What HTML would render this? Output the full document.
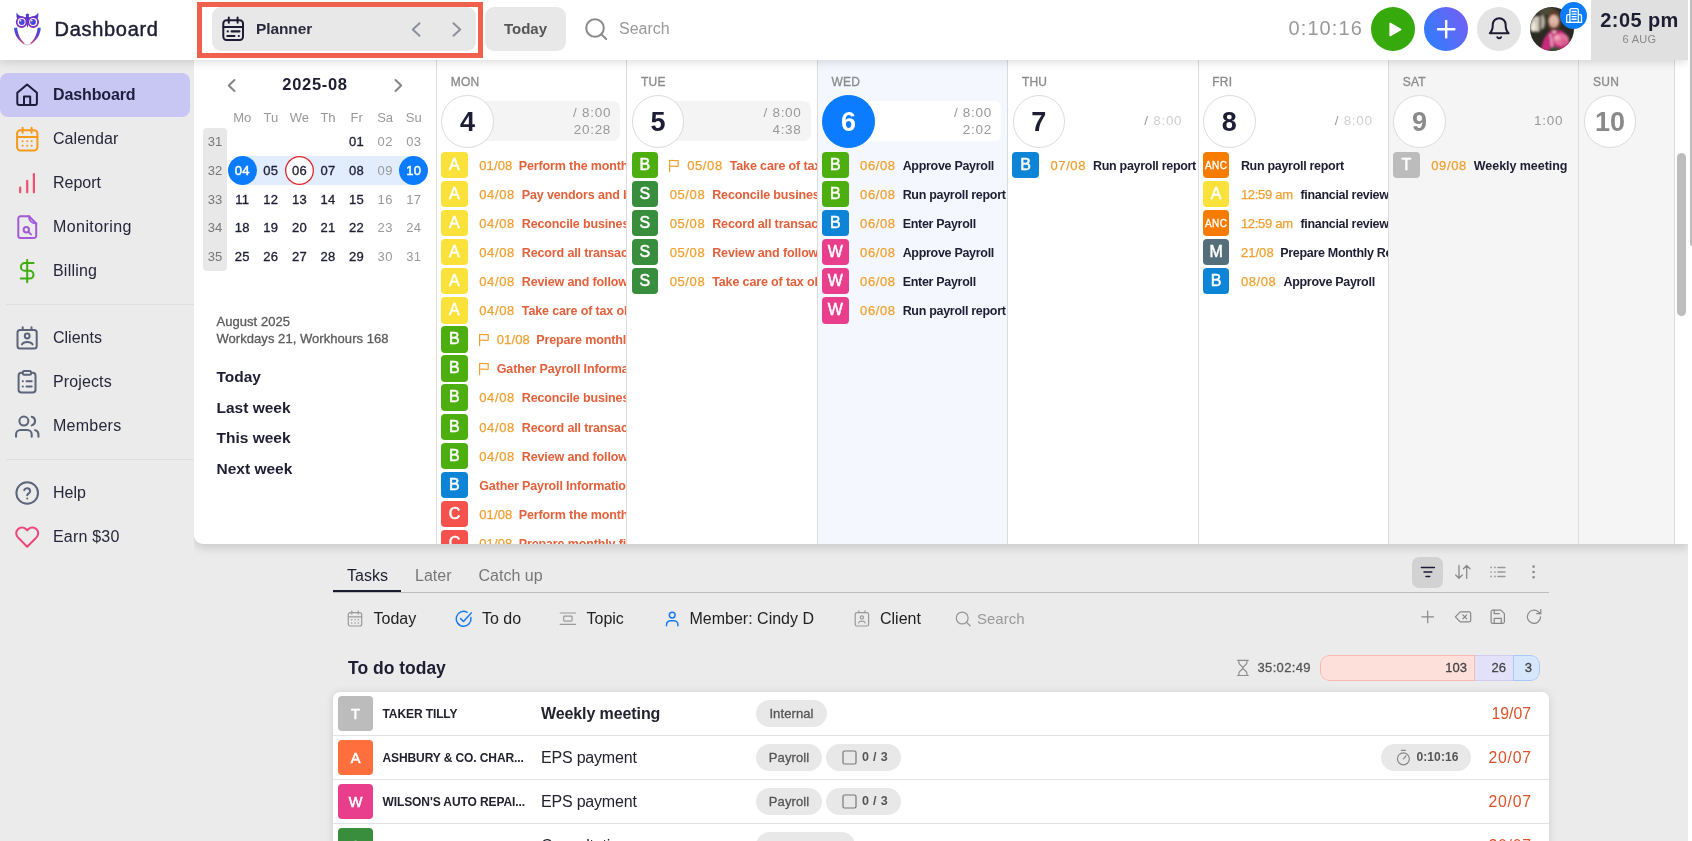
<!DOCTYPE html>
<html lang="en">
<head>
<meta charset="utf-8">
<title>Dashboard</title>
<style>
*{box-sizing:border-box;margin:0;padding:0}
html,body{width:1692px;height:841px;overflow:hidden}
body{font-family:"Liberation Sans",sans-serif;background:#ebebeb;color:#1d1d33;position:relative;will-change:transform}
.abs{position:absolute}
svg{display:block;overflow:visible}
.ico{fill:none;stroke-linecap:round;stroke-linejoin:round}
/* right strip (outer scrollbar) */
#rstrip{left:1688px;top:0;width:4px;height:841px;background:#fff;z-index:9}
#rthumb{left:1690px;top:0;width:2px;height:246px;background:#bdbdbd;border-radius:0 0 0 2px;z-index:10}
/* header */
#hdr{left:0;top:0;width:1688px;height:60px;background:#fff;box-shadow:0 1px 10px rgba(0,0,0,.16);z-index:5}
#title{left:54.500px;top:17px;font-size:20px;line-height:24px;font-weight:400;color:#1d1d33;letter-spacing:.7px;-webkit-text-stroke:.45px #1d1d33}
#redbox{left:197px;top:2px;width:286px;height:56px;border:5px solid #f15f4d}
#plbtn{left:212px;top:7px;width:264px;height:44px;border-radius:9px;background:#e8e8e8}
#pltxt{left:256px;top:19px;letter-spacing:-.1px;font-size:15.500px;line-height:20px;font-weight:700;color:#2a2a3c}
#todaybtn{left:485px;top:7px;width:81px;height:44px;border-radius:9px;background:#e8e8e8;text-align:center;font-size:15px;line-height:44px;font-weight:700;color:#555}
#srch{left:619px;top:19px;font-size:16px;line-height:20px;color:#999}
#timer{left:1288.500px;top:16px;font-size:20px;line-height:24px;color:#999;letter-spacing:1.1px}
.circ{width:44px;height:44px;border-radius:50%;top:7px}
#timebox{left:1591px;top:0;width:97px;height:60px;background:#e0e0e0;text-align:center}
#clock{left:0;top:9px;width:97px;font-size:20px;line-height:22px;font-weight:700;color:#1d1d33;letter-spacing:.4px}
#cdate{left:0;top:33px;width:97px;font-size:11px;line-height:12px;color:#888;letter-spacing:.3px}
/* sidebar */
#sbg{left:0;top:60px;width:194px;height:781px;background:#ebebeb;z-index:2}
.nav{left:0;width:190px;height:44px;z-index:3}
.nav.on{background:#c8c7f3;border-radius:8px}
.nav span{position:absolute;left:53px;top:12px;font-size:16px;line-height:20px;color:#26263a}
.nav.on span{font-weight:700;color:#1d1d3c}
.nav svg{position:absolute;left:15px;top:10px}
.sep{left:6px;width:188px;height:1px;background:#dfdfdf;z-index:3}
/* planner panel */
#panel{left:194px;top:60px;width:1494px;height:484px;background:#fff;border-bottom-left-radius:9px;box-shadow:0 4px 10px rgba(0,0,0,.14);overflow:hidden}
#panel .in{position:absolute;left:-194px;top:-60px;width:1692px;height:841px}
#mtitle{left:265px;top:74px;width:100px;text-align:center;letter-spacing:.7px;font-size:16.500px;line-height:20px;font-weight:700;color:#1d1d33}
.dh{width:29px;text-align:center;font-size:13px;line-height:16px;color:#999;top:110px}
.dn{width:29px;height:29px;text-align:center;font-size:13px;line-height:29px;font-weight:400;color:#1d1d33;border-radius:50%;letter-spacing:.3px;-webkit-text-stroke:.32px #1d1d33}
.dn.g{color:#999;-webkit-text-stroke:0}
.dn.b{background:#0b7cff;color:#fff;-webkit-text-stroke:.45px #fff}
.dn.r{box-shadow:inset 0 0 0 1.300px #e0252b;background:#fff}
.wk{width:24px;text-align:center;font-size:13px;line-height:29px;color:#777;left:203px}
#wkcol{left:203px;top:128px;width:24px;height:143px;background:#e8e8e8;border-radius:4px}
#band{left:242px;top:156px;width:172px;height:29px;background:#e1edfc}
.inf{left:216.500px;font-size:13px;letter-spacing:.05px;line-height:17px;color:#5a5a5a;-webkit-text-stroke:.3px #5a5a5a}
.ql{left:216.500px;font-size:15.500px;line-height:20px;font-weight:700;color:#1d1d33}
/* day columns */
.col{top:60px;height:484px;border-left:1px solid #dcdcdc;overflow:hidden}
.col.we{background:#f5f5f5}
.col.td{background:#f4f8fe}
.w{top:0;width:190.400px;height:484px}
.dl{left:14.200px;top:14.600px;font-size:12px;line-height:14px;color:#8a8a8a;letter-spacing:.2px;-webkit-text-stroke:.3px #8a8a8a}
.pill{left:31px;top:41px;width:152.800px;height:40px;border-radius:7px;background:#f4f4f4}
.td .pill{background:#fff}
.dc{left:4.800px;top:35px;width:52.600px;height:52.600px;border-radius:50%;border:1px solid #dcdcdc;background:#fff;text-align:center;font-size:27px;line-height:52.500px;font-weight:700;color:#1d1d33}
.td .dc{background:#0b7cff;border-color:#0b7cff;color:#fff}
.we .dc{color:#8a8a8a}
.hr{right:15.800px;text-align:right;font-size:13.500px;line-height:17px;color:#999;white-space:nowrap;letter-spacing:.7px}
.hr i{font-style:normal;color:#d0d0d0}
.t{left:4.600px;height:26px;white-space:nowrap;font-size:13px;line-height:27px}
.t b{display:inline-block;vertical-align:top;width:26.700px;height:26.300px;border-radius:4px;color:#fff;text-align:center;font-size:16px;line-height:26.800px;font-weight:400;margin-right:11.500px;-webkit-text-stroke:.5px #fff}
.t b.s{font-size:10px;letter-spacing:.45px;line-height:27px;text-indent:.4px;-webkit-text-stroke:.3px #fff}
.t em{font-style:normal;color:#f0a030;margin-right:7px;letter-spacing:.6px;-webkit-text-stroke:.25px #f0a030}
.t u{text-decoration:none;font-weight:700;color:#e2603a;font-size:12.500px;letter-spacing:-.14px}
.t u.k{color:#1d1d33;letter-spacing:-.3px}
.t svg{display:inline-block;vertical-align:top;margin:7px 7px 0 -1.500px}
.cY{background:#fbe23a}.cG{background:#4caf0f}.cD{background:#388e3c}.cB{background:#0d84d6}.cP{background:#e83e8c}.cR{background:#f5524d}.cO{background:#f57c00}.cS{background:#546e7a}.cT{background:#bcbcbc}.cA{background:#ff6f3d}
#iscroll{left:1677px;top:153px;width:9px;height:163px;border-radius:5px;background:#bdbdbd}
#pright{left:1674px;top:60px;width:1px;height:484px;background:#dcdcdc}
/* tasks section */
.tab{top:565.500px;font-size:16px;line-height:20px;color:#777}
.tab.on{color:#1d1d33}
#tabul{left:333px;top:589.500px;width:68px;height:2.500px;background:#1a1a2e}
#tabline{left:333px;top:592px;width:1216px;height:1px;background:#bcbcbc}
.f{top:608.600px;font-size:16px;line-height:20px;color:#222}
#fsearch{left:977px;top:609px;font-size:15px;line-height:20px;color:#999}
#tbtn{left:1412px;top:557px;width:31px;height:31px;border-radius:7px;background:#d2d2d2}
#tdt{left:348px;top:657px;font-size:17.500px;line-height:22px;font-weight:700;color:#1d1d33}
#hg{left:1257.500px;top:660px;font-size:13px;line-height:16px;color:#555;letter-spacing:.35px;-webkit-text-stroke:.3px #555}
#bar{left:1320px;top:655px;width:220px;height:26px;border-radius:9px;overflow:hidden;font-size:13px;line-height:24px;color:#444;-webkit-text-stroke:.3px #444}
#bar div{position:absolute;top:0;height:26px;border:1px solid}
#card{left:333px;top:692px;width:1216px;height:200px;background:#fff;border-radius:7px 7px 0 0;box-shadow:0 1px 8px rgba(0,0,0,.13)}
.row{left:0;width:1216px;height:44px;border-bottom:1px solid #e2e2e2}
.row .av{position:absolute;left:5px;top:4px;width:35px;height:35px;border-radius:4px;color:#fff;text-align:center;font-size:14.500px;line-height:36px;font-weight:400;-webkit-text-stroke:.55px #fff}
.row .cl{position:absolute;left:49.500px;top:14px;font-size:12px;letter-spacing:-.1px;line-height:16px;font-weight:700;color:#22222e;white-space:nowrap}
.row .tt{position:absolute;left:208px;top:12px;font-size:16px;line-height:20px;color:#22222e;white-space:nowrap;letter-spacing:-.2px}
.row .tt.bd{font-weight:700;letter-spacing:-.1px}
.chip{position:absolute;top:8px;height:27px;border-radius:14px;background:#e8e8e8;font-size:13px;line-height:27px;color:#555;text-align:center;-webkit-text-stroke:.3px #555;white-space:nowrap;letter-spacing:.1px}
.row .dt{position:absolute;right:18px;top:11.600px;font-size:15.800px;line-height:20px;color:#d9532c}
</style>
</head>
<body>
<!-- ============ PLANNER PANEL ============ -->
<div class="abs" id="panel"><div class="in">
<div class="abs" id="mtitle">2025-08</div>
<svg class="abs ico" style="left:227px;top:79px" width="9" height="13" viewBox="0 0 9 13" stroke="#858585" stroke-width="2"><path d="M7.500 1 1.800 6.500 7.500 12"/></svg>
<svg class="abs ico" style="left:394px;top:79px" width="9" height="13" viewBox="0 0 9 13" stroke="#858585" stroke-width="2"><path d="M1.500 1 7.200 6.500 1.500 12"/></svg>
<div class="abs dh" style="left:227.8px">Mo</div>
<div class="abs dh" style="left:256.37px">Tu</div>
<div class="abs dh" style="left:284.94px">We</div>
<div class="abs dh" style="left:313.51px">Th</div>
<div class="abs dh" style="left:342.08px">Fr</div>
<div class="abs dh" style="left:370.65px">Sa</div>
<div class="abs dh" style="left:399.22px">Su</div>
<div class="abs" id="wkcol"></div>
<div class="abs" id="band"></div>
<div class="abs wk" style="top:127.3px">31</div>
<div class="abs dn" style="left:342.08px;top:127.3px">01</div>
<div class="abs dn g" style="left:370.65px;top:127.3px">02</div>
<div class="abs dn g" style="left:399.22px;top:127.3px">03</div>
<div class="abs wk" style="top:156px">32</div>
<div class="abs dn b" style="left:227.8px;top:156px">04</div>
<div class="abs dn" style="left:256.37px;top:156px">05</div>
<div class="abs dn r" style="left:284.94px;top:156px">06</div>
<div class="abs dn" style="left:313.51px;top:156px">07</div>
<div class="abs dn" style="left:342.08px;top:156px">08</div>
<div class="abs dn g" style="left:370.65px;top:156px">09</div>
<div class="abs dn b" style="left:399.22px;top:156px">10</div>
<div class="abs wk" style="top:184.7px">33</div>
<div class="abs dn" style="left:227.8px;top:184.7px">11</div>
<div class="abs dn" style="left:256.37px;top:184.7px">12</div>
<div class="abs dn" style="left:284.94px;top:184.7px">13</div>
<div class="abs dn" style="left:313.51px;top:184.7px">14</div>
<div class="abs dn" style="left:342.08px;top:184.7px">15</div>
<div class="abs dn g" style="left:370.65px;top:184.7px">16</div>
<div class="abs dn g" style="left:399.22px;top:184.7px">17</div>
<div class="abs wk" style="top:213.4px">34</div>
<div class="abs dn" style="left:227.8px;top:213.4px">18</div>
<div class="abs dn" style="left:256.37px;top:213.4px">19</div>
<div class="abs dn" style="left:284.94px;top:213.4px">20</div>
<div class="abs dn" style="left:313.51px;top:213.4px">21</div>
<div class="abs dn" style="left:342.08px;top:213.4px">22</div>
<div class="abs dn g" style="left:370.65px;top:213.4px">23</div>
<div class="abs dn g" style="left:399.22px;top:213.4px">24</div>
<div class="abs wk" style="top:242.1px">35</div>
<div class="abs dn" style="left:227.8px;top:242.1px">25</div>
<div class="abs dn" style="left:256.37px;top:242.1px">26</div>
<div class="abs dn" style="left:284.94px;top:242.1px">27</div>
<div class="abs dn" style="left:313.51px;top:242.1px">28</div>
<div class="abs dn" style="left:342.08px;top:242.1px">29</div>
<div class="abs dn g" style="left:370.65px;top:242.1px">30</div>
<div class="abs dn g" style="left:399.22px;top:242.1px">31</div>
<div class="abs inf" style="top:313px">August 2025</div>
<div class="abs inf" style="top:330px">Workdays 21, Workhours 168</div>
<div class="abs ql" style="top:367px">Today</div>
<div class="abs ql" style="top:397.5px">Last week</div>
<div class="abs ql" style="top:428px">This week</div>
<div class="abs ql" style="top:458.5px">Next week</div>
<div class="abs col " style="left:436px;width:190px"><div class="abs w" style="left:-0.5px">
<div class="abs dl">MON</div>
<div class="abs pill" style=""></div>
<div class="abs dc">4</div>
<div class="abs hr" style="top:44px">/ 8:00<br>20:28</div>
<div class="abs t" style="top:91.9px"><b class="cY">A</b><em style="letter-spacing:.1px;margin-right:6.500px">01/08</em><u>Perform the monthly close</u></div>
<div class="abs t" style="top:120.97px"><b class="cY">A</b><em>04/08</em><u>Pay vendors and bills</u></div>
<div class="abs t" style="top:150.04px"><b class="cY">A</b><em>04/08</em><u>Reconcile business accounts</u></div>
<div class="abs t" style="top:179.11px"><b class="cY">A</b><em>04/08</em><u>Record all transactions</u></div>
<div class="abs t" style="top:208.18px"><b class="cY">A</b><em>04/08</em><u>Review and follow up</u></div>
<div class="abs t" style="top:237.25px"><b class="cY">A</b><em>04/08</em><u>Take care of tax obligations</u></div>
<div class="abs t" style="top:266.32px"><b class="cG">B</b><svg class="ico" width="12" height="13" viewBox="0 0 12 13" stroke="#f0a030" stroke-width="1.200"><path d="M1.600 12.600V1.300"/><path d="M1.600 1.700c3-.9 5.500.6 8.600-.2v5.600c-3.100.8-5.600-.7-8.600.2"/></svg><em style="letter-spacing:.1px;margin-right:6.500px">01/08</em><u>Prepare monthly financial</u></div>
<div class="abs t" style="top:295.39px"><b class="cG">B</b><svg class="ico" width="12" height="13" viewBox="0 0 12 13" stroke="#f0a030" stroke-width="1.200"><path d="M1.600 12.600V1.300"/><path d="M1.600 1.700c3-.9 5.500.6 8.600-.2v5.600c-3.100.8-5.600-.7-8.600.2"/></svg><u>Gather Payroll Information</u></div>
<div class="abs t" style="top:324.46px"><b class="cG">B</b><em>04/08</em><u>Reconcile business accounts</u></div>
<div class="abs t" style="top:353.53px"><b class="cG">B</b><em>04/08</em><u>Record all transactions</u></div>
<div class="abs t" style="top:382.6px"><b class="cG">B</b><em>04/08</em><u>Review and follow up</u></div>
<div class="abs t" style="top:411.67px"><b class="cB">B</b><u>Gather Payroll Information</u></div>
<div class="abs t" style="top:440.74px"><b class="cR">C</b><em style="letter-spacing:.1px;margin-right:6.500px">01/08</em><u>Perform the monthly close</u></div>
<div class="abs t" style="top:469.81px"><b class="cR">C</b><em style="letter-spacing:.1px;margin-right:6.500px">01/08</em><u>Prepare monthly financial</u></div>
</div></div>
<div class="abs col " style="left:626px;width:191px"><div class="abs w" style="left:-0.1px">
<div class="abs dl">TUE</div>
<div class="abs pill" style=""></div>
<div class="abs dc">5</div>
<div class="abs hr" style="top:44px">/ 8:00<br>4:38</div>
<div class="abs t" style="top:91.9px"><b class="cG">B</b><svg class="ico" width="12" height="13" viewBox="0 0 12 13" stroke="#f0a030" stroke-width="1.200"><path d="M1.600 12.600V1.300"/><path d="M1.600 1.700c3-.9 5.500.6 8.600-.2v5.600c-3.100.8-5.600-.7-8.600.2"/></svg><em>05/08</em><u>Take care of tax obligations</u></div>
<div class="abs t" style="top:120.97px"><b class="cD">S</b><em>05/08</em><u>Reconcile business accounts</u></div>
<div class="abs t" style="top:150.04px"><b class="cD">S</b><em>05/08</em><u>Record all transactions</u></div>
<div class="abs t" style="top:179.11px"><b class="cD">S</b><em>05/08</em><u>Review and follow up</u></div>
<div class="abs t" style="top:208.18px"><b class="cD">S</b><em>05/08</em><u>Take care of tax obligations</u></div>
</div></div>
<div class="abs col td" style="left:817px;width:190px"><div class="abs w" style="left:-0.7px">
<div class="abs dl">WED</div>
<div class="abs pill" style=""></div>
<div class="abs dc">6</div>
<div class="abs hr" style="top:44px">/ 8:00<br>2:02</div>
<div class="abs t" style="top:91.9px"><b class="cG">B</b><em>06/08</em><u class="k">Approve Payroll</u></div>
<div class="abs t" style="top:120.97px"><b class="cG">B</b><em>06/08</em><u class="k">Run payroll report</u></div>
<div class="abs t" style="top:150.04px"><b class="cB">B</b><em>06/08</em><u class="k">Enter Payroll</u></div>
<div class="abs t" style="top:179.11px"><b class="cP">W</b><em>06/08</em><u class="k">Approve Payroll</u></div>
<div class="abs t" style="top:208.18px"><b class="cP">W</b><em>06/08</em><u class="k">Enter Payroll</u></div>
<div class="abs t" style="top:237.25px"><b class="cP">W</b><em>06/08</em><u class="k">Run payroll report</u></div>
</div></div>
<div class="abs col " style="left:1007px;width:191px"><div class="abs w" style="left:-0.3px">
<div class="abs dl">THU</div>
<div class="abs pill" style="background:transparent"></div>
<div class="abs dc">7</div>
<div class="abs hr" style="top:52px">/ <i>8:00</i></div>
<div class="abs t" style="top:91.9px"><b class="cB">B</b><em>07/08</em><u class="k">Run payroll report</u></div>
</div></div>
<div class="abs col " style="left:1198px;width:190px"><div class="abs w" style="left:-0.9px">
<div class="abs dl">FRI</div>
<div class="abs pill" style="background:transparent"></div>
<div class="abs dc">8</div>
<div class="abs hr" style="top:52px">/ <i>8:00</i></div>
<div class="abs t" style="top:91.9px"><b class="cO s">ANC</b><u class="k">Run payroll report</u></div>
<div class="abs t" style="top:120.97px"><b class="cY">A</b><em style="letter-spacing:-.3px;margin-right:7.700px">12:59 am</em><u class="k">financial review</u></div>
<div class="abs t" style="top:150.04px"><b class="cO s">ANC</b><em style="letter-spacing:-.3px;margin-right:7.700px">12:59 am</em><u class="k">financial review</u></div>
<div class="abs t" style="top:179.11px"><b class="cS">M</b><em style="letter-spacing:.05px;margin-right:6.500px">21/08</em><u class="k">Prepare Monthly Report</u></div>
<div class="abs t" style="top:208.18px"><b class="cB">B</b><em>08/08</em><u class="k">Approve Payroll</u></div>
</div></div>
<div class="abs col we" style="left:1388px;width:190px"><div class="abs w" style="left:-0.5px">
<div class="abs dl">SAT</div>
<div class="abs pill" style="background:transparent"></div>
<div class="abs dc">9</div>
<div class="abs hr" style="top:52px">1:00</div>
<div class="abs t" style="top:91.9px"><b class="cT">T</b><em>09/08</em><u class="k" style="letter-spacing:-.05px">Weekly meeting</u></div>
</div></div>
<div class="abs col we" style="left:1578px;width:96px"><div class="abs w" style="left:-0.1px">
<div class="abs dl">SUN</div>
<div class="abs dc">10</div>
</div></div>
<div class="abs" id="pright"></div>
<div class="abs" id="iscroll"></div>
</div></div>
<!-- ============ TASKS ============ -->
<div class="abs tab on" style="left:347px">Tasks</div>
<div class="abs tab" style="left:415px">Later</div>
<div class="abs tab" style="left:478.500px">Catch up</div>
<div class="abs" id="tabline"></div><div class="abs" id="tabul"></div>
<div class="abs" id="tbtn"></div>
<svg class="abs ico" style="left:1419px;top:565px" width="18" height="14" viewBox="0 0 18 14" stroke="#1d1a33" stroke-width="1.500"><path d="M2.400 2.400h13M5 7h7.800M7 11.400h3.700"/></svg>
<svg class="abs ico" style="left:1455px;top:564px" width="16" height="16" viewBox="0 0 16 16" stroke="#8a8a8a" stroke-width="1.300"><path d="M4 1.500v12.700M.7 11 4 14.300 7.300 11M11.700 14.300V1.500M8.400 4.800l3.300-3.300L15 4.800"/></svg>
<svg class="abs ico" style="left:1490px;top:565px" width="16" height="14" viewBox="0 0 16 14" stroke="#999" stroke-width="1.500"><path d="M7.800 2.400h7.100M7.800 7h7.100M7.800 11.400h7.100"/><path d="M1.100 2.400h.1M4.900 2.400h.1M1.100 7h.1M4.900 7h.1M1.100 11.400h.1M4.900 11.400h.1" stroke-width="1.700"/></svg>
<svg class="abs ico" style="left:1531px;top:564px" width="6" height="16" viewBox="0 0 6 16" stroke="#888" stroke-width="2.600"><path d="M2.600 2.600h.01M2.600 8h.01M2.600 13.200h.01"/></svg>
<svg class="abs ico" style="left:347px;top:610px" width="16" height="17" viewBox="0 0 16 17" stroke="#999" stroke-width="1.200"><rect x="1.300" y="2.600" width="13.400" height="13.400" rx="2"/><path d="M4.800 .9v3.200M11.200 .9v3.200M1.300 6.800h13.400"/><path d="M4.700 9.800h.01M8 9.800h.01M11.300 9.800h.01M4.700 12.900h.01M8 12.900h.01M11.300 12.900h.01" stroke-width="1.500"/></svg>
<svg class="abs ico" style="left:455px;top:610px" width="18" height="18" viewBox="0 0 18 18" stroke="#1a7af0" stroke-width="1.500"><path d="M15.900 7.600A7.400 7.400 0 1 1 12.200 2.300"/><path d="m5.600 8.600 2.900 2.900 7.700-8.600"/></svg>
<svg class="abs ico" style="left:559px;top:611px" width="18" height="15" viewBox="0 0 18 15" stroke="#999" stroke-width="1.200"><path d="M1.200 2h15.400M1.200 13.300h15.400"/><rect x="4.700" y="5.200" width="8.400" height="4.900" rx=".8"/></svg>
<svg class="abs ico" style="left:665px;top:611px" width="14" height="16" viewBox="0 0 14 16" stroke="#1a7af0" stroke-width="1.500"><circle cx="7.200" cy="4.100" r="2.900"/><path d="M1.500 14.700v-1a4 4 0 0 1 4-4h3.400a4 4 0 0 1 4 4v1"/></svg>
<svg class="abs ico" style="left:854px;top:610px" width="16" height="17" viewBox="0 0 16 17" stroke="#999" stroke-width="1.200"><rect x="1.200" y="2.600" width="13.400" height="13.400" rx="1.800"/><path d="M4.800 .9v1.700M11 .9v1.700"/><circle cx="7.900" cy="7.400" r="1.600"/><path d="M4.600 12.900a3.400 2.300 0 0 1 6.600 0"/></svg>
<svg class="abs ico" style="left:955px;top:611px" width="16" height="16" viewBox="0 0 16 16" stroke="#999" stroke-width="1.300"><circle cx="7.200" cy="7" r="5.900"/><path d="m11.500 11.300 3.600 3.400"/></svg>
<svg class="abs ico" style="left:1421px;top:610px" width="14" height="14" viewBox="0 0 14 14" stroke="#888" stroke-width="1.200"><path d="M6.700 1.100v11.600M.9 6.900h11.600"/></svg>
<svg class="abs ico" style="left:1454px;top:610px" width="18" height="14" viewBox="0 0 18 14" stroke="#888" stroke-width="1.200"><path d="M6.200 1.900h9a1.500 1.500 0 0 1 1.500 1.500v7a1.500 1.500 0 0 1-1.500 1.500h-9L1.400 6.900z"/><path d="m8.800 4.900 3.900 3.900M12.700 4.900 8.800 8.800"/></svg>
<svg class="abs ico" style="left:1490px;top:609px" width="16" height="16" viewBox="0 0 16 16" stroke="#888" stroke-width="1.200"><path d="M2.700 1.200h8.200l3.500 3.500v8.100a1.600 1.600 0 0 1-1.600 1.600H2.700a1.600 1.600 0 0 1-1.600-1.600V2.800a1.600 1.600 0 0 1 1.600-1.600z"/><path d="M4.200 14.400V9.300h7.100v5.100M4.200 1.200v3.500h5.200"/></svg>
<svg class="abs ico" style="left:1526px;top:608px" width="17" height="17" viewBox="0 0 17 17" stroke="#888" stroke-width="1.200"><path d="M14.600 8.800A6.600 6.600 0 1 1 12.300 3.700l2.300 1.900"/><path d="M14.800 1.700v4h-4"/></svg>
<svg class="abs ico" style="left:1236px;top:659px" width="14" height="18" viewBox="0 0 14 18" stroke="#8e8e8e" stroke-width="1.200"><path d="M1.500 1.300h10.800M1.500 16.500h10.800M2.900 1.300v2.600c0 1.500 4 3.600 4 5s-4 3.500-4 5v2.600M10.900 1.300v2.600c0 1.500-4 3.600-4 5s4 3.500 4 5v2.600"/></svg>
<div class="abs f" style="left:373.500px">Today</div>
<div class="abs f" style="left:482px">To do</div>
<div class="abs f" style="left:586.500px">Topic</div>
<div class="abs f" style="left:689.500px">Member: Cindy D</div>
<div class="abs f" style="left:880px">Client</div>
<div class="abs" id="fsearch">Search</div>
<div class="abs" id="tdt">To do today</div>
<div class="abs" id="hg">35:02:49</div>
<div class="abs" id="bar"><div style="left:0;width:155px;background:#fde0d9;border-color:#f6b9ab;border-radius:9px 0 0 9px;text-align:right;padding-right:7px">103</div><div style="left:154px;width:40px;background:#e3e1fa;border-color:#cfcbf5;border-left-color:#f6b9ab;text-align:right;padding-right:7px">26</div><div style="left:193px;width:27px;background:#d6e6fb;border-color:#a9c9f6;border-radius:0 9px 9px 0;text-align:right;padding-right:7px">3</div></div>
<div class="abs" id="card">
<div class="abs row" style="top:0px">
<div class="av cT">T</div><div class="cl">TAKER TILLY</div><div class="tt bd">Weekly meeting</div>
<div class="chip" style="left:423px;width:71px">Internal</div>
<div class="dt">19/07</div>
</div>
<div class="abs row" style="top:44px">
<div class="av cA">A</div><div class="cl">ASHBURY &amp; CO. CHAR...</div><div class="tt">EPS payment</div>
<div class="chip" style="left:423px;width:66px">Payroll</div>
<div class="chip" style="left:493px;width:75px;padding-left:23px;font-weight:700;font-size:12.500px;letter-spacing:.3px;-webkit-text-stroke:0"><svg class="abs ico" style="left:16px;top:6px" width="15" height="15" viewBox="0 0 15 15" stroke="#777" stroke-width="1.200"><rect x="1" y="1" width="13" height="13" rx="1.500"/></svg>0 / 3</div>
<div class="chip" style="left:1048px;width:90px;padding-left:23px;font-weight:700;font-size:12px;-webkit-text-stroke:0"><svg class="abs ico" style="left:14.500px;top:5px" width="15" height="17" viewBox="0 0 15 17" stroke="#888" stroke-width="1.200"><circle cx="7.400" cy="9.800" r="6"/><path d="M5.400 1.300h4M7.400 9.800l2.600-2.800"/></svg>0:10:16</div>
<div class="dt" style="letter-spacing:.75px;right:17.250px">20/07</div>
</div>
<div class="abs row" style="top:88px">
<div class="av cP">W</div><div class="cl">WILSON'S AUTO REPAI...</div><div class="tt">EPS payment</div>
<div class="chip" style="left:423px;width:66px">Payroll</div>
<div class="chip" style="left:493px;width:75px;padding-left:23px;font-weight:700;font-size:12.500px;letter-spacing:.3px;-webkit-text-stroke:0"><svg class="abs ico" style="left:16px;top:6px" width="15" height="15" viewBox="0 0 15 15" stroke="#777" stroke-width="1.200"><rect x="1" y="1" width="13" height="13" rx="1.500"/></svg>0 / 3</div>
<div class="dt" style="letter-spacing:.75px;right:17.250px">20/07</div>
</div>
<div class="abs row" style="top:132px">
<div class="av cD">S</div><div class="cl">STONE &amp; CO.</div><div class="tt">Consultation</div>
<div class="chip" style="left:423px;width:99px"></div>
<div class="dt" style="letter-spacing:.75px;right:17.250px">20/07</div>
</div>
</div>
<!-- ============ SIDEBAR ============ -->
<div class="abs" id="sbg"></div>
<div class="abs nav on" style="top:73px"><svg class="ico" width="24" height="24" viewBox="0 0 24 24" stroke="#1d1d3c" stroke-width="2"><path d="M2.300 9.800 12.100 1.500l9.800 8.300V20a2 2 0 0 1-2 2H4.300a2 2 0 0 1-2-2z"/><path d="M9 22v-8.500h6.200V22"/></svg><span style="letter-spacing:-.12px">Dashboard</span></div>
<div class="abs nav" style="top:117px"><svg class="ico" width="24" height="24" viewBox="0 0 24 24" stroke="#f59a1b" stroke-width="2"><rect x="2.100" y="3.200" width="20.300" height="20.300" rx="3.200"/><path d="M7.600 .8v5M16.600 .8v5M2.100 10h20.300"/><g fill="#f59a1b" stroke="none"><circle cx="7.600" cy="14.300" r="1"/><circle cx="12.200" cy="14.300" r="1"/><circle cx="16.700" cy="14.300" r="1"/><circle cx="7.600" cy="18.700" r="1"/><circle cx="12.200" cy="18.700" r="1"/><circle cx="16.700" cy="18.700" r="1"/></g></svg><span style="letter-spacing:.05px">Calendar</span></div>
<div class="abs nav" style="top:161px"><svg class="ico" width="24" height="24" viewBox="0 0 24 24" stroke="#f0506e" stroke-width="2.200"><path d="M5.200 16.500v4.800M12.200 9.800v11.500M18.900 3v18.300"/></svg><span>Report</span></div>
<div class="abs nav" style="top:205px"><svg class="ico" width="24" height="24" viewBox="0 0 24 24" stroke="#a45ad6" stroke-width="2"><path d="M14 1.200H5.500a2.200 2.200 0 0 0-2.200 2.200v17.400a2.200 2.200 0 0 0 2.200 2.200h13.500a2.200 2.200 0 0 0 2.200-2.200V8.400z"/><path d="M14 1.200c0 4.200 2.600 7.200 7.200 7.200"/><circle cx="11.300" cy="14.800" r="2.700"/><path d="m13.400 16.900 2.600 2.500"/></svg><span style="letter-spacing:.42px">Monitoring</span></div>
<div class="abs nav" style="top:249px"><svg class="ico" width="24" height="24" viewBox="0 0 24 24" stroke="#3fae0d" stroke-width="2"><path d="M12.200 1v22.300"/><path d="M18.600 4H9.800a3.900 3.900 0 0 0 0 7.800h4.800a3.900 3.900 0 0 1 0 7.800H5.700"/></svg><span style="letter-spacing:.2px">Billing</span></div>
<div class="abs sep" style="top:304px"></div>
<div class="abs nav" style="top:316px"><svg class="ico" width="24" height="24" viewBox="0 0 24 24" stroke="#5b6478" stroke-width="2"><rect x="2.500" y="3.900" width="19.200" height="18.500" rx="2.500"/><path d="M7.700 1.300v2.600M16.500 1.300v2.600"/><circle cx="12.200" cy="10" r="2.400"/><path d="M6.900 18.400a5.600 3.400 0 0 1 10.700 0"/></svg><span>Clients</span></div>
<div class="abs nav" style="top:360px"><svg class="ico" width="24" height="24" viewBox="0 0 24 24" stroke="#5b6478" stroke-width="2"><rect x="3.600" y="2.800" width="16.900" height="19.700" rx="2.800"/><rect x="7.800" y=".9" width="8.300" height="3.800" rx="1.500" fill="#ebebeb"/><path d="M11.500 11.300h5.200M11.500 16.500h5.200"/><path d="M7.700 11.300h.2M7.700 16.500h.2"/></svg><span style="letter-spacing:.12px">Projects</span></div>
<div class="abs nav" style="top:404px"><svg class="ico" width="24" height="24" viewBox="0 0 24 24" stroke="#5b6478" stroke-width="1.800"><g transform="translate(-1.200 -.8) scale(1.120)"><path d="M16 21v-2a4 4 0 0 0-4-4H6a4 4 0 0 0-4 4v2"/><circle cx="9" cy="7" r="4"/><path d="M22 21v-2a4 4 0 0 0-3-3.870"/><path d="M16 3.130a4 4 0 0 1 0 7.750"/></g></svg><span style="letter-spacing:.25px">Members</span></div>
<div class="abs sep" style="top:459px"></div>
<div class="abs nav" style="top:471px"><svg class="ico" width="24" height="24" viewBox="0 0 24 24" stroke="#5b6478" stroke-width="2"><circle cx="12.200" cy="12" r="10.800"/><path d="M9.200 9.200a3.100 3.100 0 0 1 6 1c0 2-3 2.700-3 4"/><path d="M12.200 17.600h.01"/></svg><span>Help</span></div>
<div class="abs nav" style="top:515px"><svg class="ico" width="24" height="24" viewBox="0 0 24 24" stroke="#f0457a" stroke-width="1.900"><g transform="translate(-.4 -.6) scale(1.050)"><path d="M20.840 4.610a5.500 5.500 0 0 0-7.780 0L12 5.670l-1.060-1.060a5.500 5.500 0 0 0-7.780 7.780l1.060 1.060L12 21.230l7.780-7.780 1.060-1.060a5.500 5.500 0 0 0 0-7.780z"/></g></svg><span style="letter-spacing:.2px">Earn $30</span></div>
<!-- ============ HEADER ============ -->
<div class="abs" id="hdr">
  <svg class="abs" style="left:13px;top:11px" width="30" height="36" viewBox="0 0 30 36">
    <defs><linearGradient id="og" x1="0" y1="0" x2="0" y2="1"><stop offset="0" stop-color="#3553e8"/><stop offset=".5" stop-color="#6a35c8"/><stop offset="1" stop-color="#d8456a"/></linearGradient></defs>
    <path d="M3.700 1.200C4.600 4 7.500 5.800 14.400 6.400 21.300 5.800 24.200 4 25.100 1.200c.6 3.200.2 6-1.500 8L14.400 8 5.200 9.200c-1.700-2-2.100-4.800-1.500-8z" fill="#4540d6"/>
    <path d="M12.600 3.600l1.800-1 1.800 1-.5 1.600.8 2-1.300 1.600.5 2.400-1.300 6-1.300-6 .5-2.400-1.300-1.600.8-2z" fill="#4b3bd0"/>
    <circle cx="8.600" cy="11.100" r="4.900" fill="#fff" stroke="#7d2fbc" stroke-width="1.800"/>
    <circle cx="20.200" cy="11.100" r="4.900" fill="#fff" stroke="#7d2fbc" stroke-width="1.800"/>
    <circle cx="8.800" cy="11" r="2.900" fill="#4846d8"/><circle cx="20" cy="11" r="2.900" fill="#4846d8"/>
    <circle cx="7.500" cy="9.700" r=".9" fill="#e8e4ff"/><circle cx="18.700" cy="9.700" r=".9" fill="#e8e4ff"/>
    <path d="M1.100 16.800h3.100c.5 6.300 2.700 11.300 7.500 15.500l-.7.900C5.300 29.500 1.300 24.100 1.100 16.800z" fill="url(#og)"/>
    <path d="M27.700 16.800h-3.100c-.5 6.300-2.700 11.300-7.500 15.500l.7.900c5.700-3.700 9.700-9.100 9.900-16.400z" fill="url(#og)"/>
    <path d="M10.800 33.100c2.400 1 4.800 1 7.200 0" fill="none" stroke="#cfc9ea" stroke-width="1.100"/>
    <path d="M11 21.500h.8M14 21h.8M17 21.500h.8M12.500 24.500h.8M15.500 24.500h.8M11.500 27.500h.8M14.200 28h.8M17 27.500h.8" stroke="#e4e2ee" stroke-width=".9" fill="none"/>
  </svg>
  <div class="abs" id="title">Dashboard</div>
  <div class="abs" id="plbtn"></div>
  <svg class="abs ico" style="left:221px;top:16px" width="24" height="26" viewBox="0 0 24 26" stroke="#1d1a33" stroke-width="2"><rect x="2.300" y="4.300" width="19.700" height="19.700" rx="3.200"/><path d="M7.800 1.600v5.200M16.600 1.600v5.200M2.300 10.900h19.700"/><path d="M10.600 15.400h7.900M6.300 20h7.200" stroke-width="2.100"/><path d="M6.700 15.400h.1M17.800 20h.1" stroke-width="2.100"/></svg>
  <div class="abs" id="pltxt">Planner</div>
  <svg class="abs ico" style="left:411px;top:22px" width="10" height="15" viewBox="0 0 10 15" stroke="#8b909c" stroke-width="2"><path d="M8.500 1.200 1.800 7.500l6.700 6.300"/></svg>
  <svg class="abs ico" style="left:451.500px;top:22px" width="10" height="15" viewBox="0 0 10 15" stroke="#8b909c" stroke-width="2"><path d="M1.500 1.200 8.200 7.500l-6.700 6.300"/></svg>
  <div class="abs" id="redbox"></div>
  <div class="abs" id="todaybtn">Today</div>
  <svg class="abs ico" style="left:585px;top:18px" width="23" height="23" viewBox="0 0 23 23" stroke="#8a8a8a" stroke-width="2"><circle cx="10" cy="10" r="8.800"/><path d="m16.400 16.400 4.800 4.600"/></svg>
  <div class="abs" id="srch">Search</div>
  <div class="abs" id="timer">0:10:16</div>
  <div class="abs circ" style="left:1371px;background:#36aa0d"><svg class="abs" style="left:17.500px;top:15px" width="13" height="15" viewBox="0 0 13 15"><path d="M1.200 1.400v12.200L11.600 7.500z" fill="#fff" stroke="#fff" stroke-width="1.600" stroke-linejoin="round"/></svg></div>
  <div class="abs circ" style="left:1424px;background:linear-gradient(60deg,#2f7dff 10%,#7260f4 90%)"><svg class="abs ico" style="left:13px;top:13px" width="18" height="18" viewBox="0 0 18 18" stroke="#fff" stroke-width="2.400"><path d="M9.200 1v16.400M1 9.200h16.400"/></svg></div>
  <div class="abs circ" style="left:1477px;background:#e4e4e4"><svg class="abs ico" style="left:10px;top:9px" width="24" height="26" viewBox="0 0 24 26" stroke="#1d1a33" stroke-width="2"><path d="M5.800 8.600a6.400 6.400 0 0 1 12.800 0c0 5.400 1.300 7.300 3 8.700H2.800c1.700-1.400 3-3.300 3-8.700z"/><path d="M10.400 21.200a2.100 2.100 0 0 0 3.600 0"/></svg></div>
  <svg class="abs" style="left:1530px;top:7px" width="44" height="44" viewBox="0 0 44 44">
    <defs><clipPath id="avc"><circle cx="22" cy="22" r="22"/></clipPath>
    <filter id="bl" x="-20%" y="-20%" width="140%" height="140%"><feGaussianBlur stdDeviation="1"/></filter></defs>
    <g clip-path="url(#avc)"><rect width="44" height="44" fill="#2a2a22"/>
    <g filter="url(#bl)">
      <ellipse cx="7" cy="17" rx="6" ry="8" fill="#cfc7ba"/><ellipse cx="3" cy="20" rx="3" ry="5" fill="#ece5d9"/><ellipse cx="12.500" cy="15" rx="2.600" ry="7" fill="#b9b0a2"/>
      <rect x="9.300" y="8" width="1.800" height="16" fill="#3a372c"/>
      <ellipse cx="16" cy="4" rx="10" ry="4" fill="#4d4a38"/>
      <ellipse cx="24" cy="13.500" rx="7.300" ry="11" fill="#5c3d2d"/>
      <ellipse cx="23.800" cy="14" rx="4.800" ry="6.200" fill="#e0b9a6"/>
      <path d="M11 44c1-11 5-18 12-21.500l3 2 4-1.500c6 2 10 9 11 21z" fill="#c72a7a"/>
      <path d="M22 24l2 3 3-3" fill="#e6d5d0"/>
      <ellipse cx="31" cy="32.500" rx="8" ry="6" fill="#e2719e"/><ellipse cx="27" cy="30.500" rx="3" ry="2.500" fill="#f3a6c0"/><ellipse cx="34" cy="35" rx="3" ry="2.500" fill="#d85a8c"/>
      <path d="M20.500 27l2 15" stroke="#e9c9d9" stroke-width="1.400"/>
      <ellipse cx="25" cy="42.500" rx="6" ry="3" fill="#3b4b35"/>
      <ellipse cx="23.600" cy="17.400" rx="1.500" ry=".6" fill="#c24a52"/>
    </g></g>
  </svg>
  <div class="abs" style="left:1560px;top:2px;width:27px;height:27px;border-radius:50%;background:#0a7cff"><svg class="abs ico" style="left:5.200px;top:5.400px" width="18.200" height="16.600" viewBox="0 0 16 16" preserveAspectRatio="none" stroke="#fff" stroke-width="1.150"><path d="M4.300 14.800V2.800a1.300 1.300 0 0 1 1.300-1.300h4.800a1.300 1.300 0 0 1 1.300 1.300v12z"/><path d="M4.300 7.400H2.700a1.200 1.200 0 0 0-1.200 1.200v6.200h13V8.600a1.200 1.200 0 0 0-1.200-1.200h-1.600"/><path d="M6.200 4.300h3.600M6.200 6.800h3.600M6.200 9.300h3.600M6.200 11.800h3.600" stroke-width="1.300"/></svg></div>
  <div class="abs" id="timebox"><div class="abs" id="clock">2:05 pm</div><div class="abs" id="cdate">6 AUG</div></div>
</div>
<div class="abs" id="rstrip"></div>
<div class="abs" id="rthumb"></div>
</body>
</html>
